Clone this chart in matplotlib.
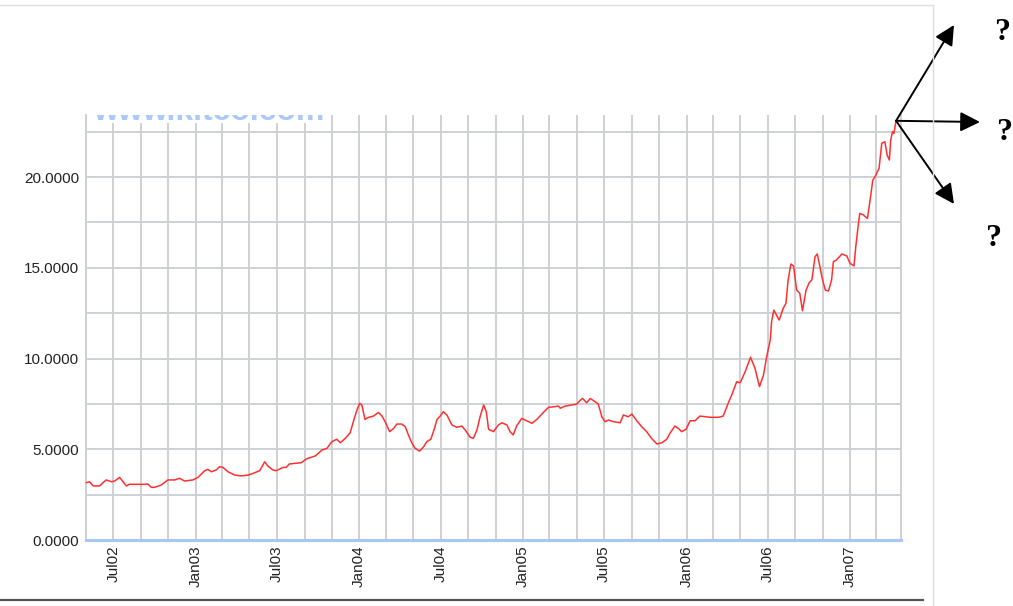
import matplotlib
matplotlib.use("Agg")
import matplotlib.pyplot as plt
import matplotlib.dates as mdates
from matplotlib.lines import Line2D
from matplotlib.patches import Rectangle
from matplotlib.ticker import MultipleLocator, FuncFormatter
import pandas as pd

# price readings (date, value)
dates = [
    "2002-05-02", "2002-05-09", "2002-05-17", "2002-05-31", "2002-06-15", "2002-06-27",
    "2002-07-04", "2002-07-15", "2002-07-23", "2002-07-30", "2002-08-06", "2002-09-09",
    "2002-09-16", "2002-09-24", "2002-10-01", "2002-10-16", "2002-10-31", "2002-11-15",
    "2002-11-26", "2002-12-07", "2002-12-26", "2003-01-06", "2003-01-21", "2003-01-28",
    "2003-02-05", "2003-02-16", "2003-02-23", "2003-03-03", "2003-03-14", "2003-03-29",
    "2003-04-13", "2003-04-28", "2003-05-09", "2003-05-24", "2003-06-04", "2003-06-11",
    "2003-06-22", "2003-06-30", "2003-07-15", "2003-07-22", "2003-07-29", "2003-08-13",
    "2003-08-25", "2003-09-06", "2003-09-25", "2003-10-10", "2003-10-21", "2003-11-01",
    "2003-11-12", "2003-11-20", "2003-12-01", "2003-12-12", "2003-12-19", "2003-12-27",
    "2004-01-02", "2004-01-07", "2004-01-14", "2004-01-22", "2004-02-02", "2004-02-13",
    "2004-02-21", "2004-02-28", "2004-03-09", "2004-03-18", "2004-03-25", "2004-04-05",
    "2004-04-13", "2004-04-20", "2004-04-28", "2004-05-05", "2004-05-15", "2004-05-24",
    "2004-05-31", "2004-06-09", "2004-06-16", "2004-06-23", "2004-06-30", "2004-07-07",
    "2004-07-15", "2004-07-26", "2004-08-06", "2004-08-17", "2004-08-25", "2004-09-05",
    "2004-09-12", "2004-09-20", "2004-09-27", "2004-10-05", "2004-10-11", "2004-10-16",
    "2004-10-27", "2004-11-07", "2004-11-15", "2004-11-26", "2004-12-03", "2004-12-10",
    "2004-12-18", "2004-12-29", "2005-01-09", "2005-01-21", "2005-02-01", "2005-02-15",
    "2005-02-27", "2005-03-10", "2005-03-21", "2005-03-25", "2005-04-05", "2005-04-20",
    "2005-05-01", "2005-05-08", "2005-05-14", "2005-05-23", "2005-05-31", "2005-06-11",
    "2005-06-18", "2005-06-26", "2005-07-03", "2005-07-11", "2005-07-22", "2005-08-06",
    "2005-08-13", "2005-08-24", "2005-09-01", "2005-09-12", "2005-09-23", "2005-10-04",
    "2005-10-15", "2005-10-27", "2005-11-07", "2005-11-18", "2005-11-25", "2005-12-06",
    "2005-12-14", "2005-12-21", "2005-12-31", "2006-01-09", "2006-01-20", "2006-01-31",
    "2006-02-23", "2006-03-13", "2006-03-24", "2006-04-04", "2006-04-12", "2006-04-23",
    "2006-05-01", "2006-05-12", "2006-05-24", "2006-06-03", "2006-06-13", "2006-06-22",
    "2006-06-29", "2006-07-07", "2006-07-10", "2006-07-15", "2006-07-27", "2006-08-05",
    "2006-08-11", "2006-08-16", "2006-08-22", "2006-08-28", "2006-09-04", "2006-09-11",
    "2006-09-17", "2006-09-25", "2006-10-02", "2006-10-08", "2006-10-15", "2006-10-20",
    "2006-10-26", "2006-10-31", "2006-11-07", "2006-11-14", "2006-11-21", "2006-11-25",
    "2006-12-02", "2006-12-14", "2006-12-25", "2007-01-01", "2007-01-10", "2007-01-14",
    "2007-01-20", "2007-01-23", "2007-01-31", "2007-02-09", "2007-02-15", "2007-02-21",
    "2007-02-26", "2007-03-07", "2007-03-13", "2007-03-20", "2007-03-25", "2007-03-30",
    "2007-04-02", "2007-04-06", "2007-04-09", "2007-04-14",
]
values = [
    3.16, 3.21, 2.98, 2.98, 3.31, 3.21,
    3.25, 3.45, 3.21, 2.98, 3.07, 3.07,
    3.09, 2.90, 2.90, 3.03, 3.31, 3.31,
    3.40, 3.25, 3.31, 3.45, 3.82, 3.89,
    3.76, 3.86, 4.04, 4.00, 3.76, 3.58,
    3.53, 3.58, 3.67, 3.82, 4.31, 4.08,
    3.86, 3.82, 4.00, 4.00, 4.19, 4.23,
    4.26, 4.48, 4.63, 4.96, 5.05, 5.42,
    5.55, 5.36, 5.60, 5.91, 6.52, 7.16,
    7.53, 7.44, 6.65, 6.76, 6.83, 7.03,
    6.83, 6.52, 5.97, 6.15, 6.39, 6.39,
    6.24, 5.79, 5.33, 5.05, 4.90, 5.14,
    5.42, 5.55, 6.06, 6.65, 6.83, 7.07,
    6.89, 6.34, 6.21, 6.28, 6.06, 5.66,
    5.60, 6.06, 6.79, 7.44, 7.07, 6.10,
    5.97, 6.34, 6.46, 6.34, 5.97, 5.79,
    6.30, 6.70, 6.57, 6.43, 6.65, 7.02,
    7.31, 7.34, 7.38, 7.26, 7.38, 7.44,
    7.49, 7.68, 7.80, 7.56, 7.80, 7.62,
    7.49, 6.79, 6.52, 6.61, 6.52, 6.46,
    6.89, 6.79, 6.94, 6.57, 6.24, 5.97,
    5.60, 5.29, 5.36, 5.55, 5.88, 6.28,
    6.15, 5.97, 6.10, 6.57, 6.57, 6.83,
    6.76, 6.76, 6.83, 7.53, 7.99, 8.72,
    8.67, 9.27, 10.07, 9.46, 8.45, 9.09,
    10.10, 11.02, 12.03, 12.67, 12.12, 12.77,
    13.04, 14.33, 15.21, 15.10, 13.77, 13.59,
    12.63, 13.77, 14.18, 14.33, 15.61, 15.76,
    15.06, 14.42, 13.77, 13.72, 14.33, 15.34,
    15.43, 15.76, 15.65, 15.25, 15.10, 16.16,
    17.45, 18.00, 17.91, 17.72, 18.73, 19.83,
    20.02, 20.48, 21.86, 21.95, 21.21, 20.94,
    22.04, 22.50, 22.40, 23.10,
]
x_start = "2002-05-01"
x_end = "2007-04-25"
watermark = "www.kitco.com"
question = "?"

W, H = 1013, 606
fig = plt.figure(figsize=(W / 100, H / 100), dpi=100)
ax = fig.add_axes([86 / W, (H - 540) / H, 815 / W, 425 / H])

d = pd.to_datetime(dates)
ax.plot(d, values, color="#ff3030", lw=1.1, zorder=3, clip_on=False)

ax.set_xlim(pd.Timestamp(x_start), pd.Timestamp(x_end))
ax.set_ylim(0, 23.42)

ax.xaxis.set_major_locator(mdates.MonthLocator(bymonth=[1, 7]))
ax.xaxis.set_major_formatter(mdates.DateFormatter("%b%y"))
ax.xaxis.set_minor_locator(mdates.MonthLocator(bymonth=[1, 3, 5, 7, 9, 11]))
ax.yaxis.set_major_locator(MultipleLocator(5))
ax.yaxis.set_major_formatter(FuncFormatter(lambda v, p: "%.4f" % v))
ax.yaxis.set_minor_locator(MultipleLocator(2.5))

gc = "#cdd1d5"
ax.grid(True, which="both", color=gc, lw=1.4, zorder=1)
ax.tick_params(which="both", length=0)
ax.tick_params(axis="y", pad=5, labelsize=11, labelcolor="#222222")
ax.tick_params(axis="x", pad=4, labelsize=11, labelcolor="#222222", labelrotation=90)
for lab in ax.get_yticklabels() + ax.get_xticklabels():
    lab.set_family("Liberation Sans")

ax.spines["top"].set_visible(False)
ax.spines["left"].set_color(gc)
ax.spines["left"].set_linewidth(1.4)
ax.spines["right"].set_color(gc)
ax.spines["right"].set_linewidth(1.4)
ax.spines["bottom"].set_color("#a6c8f7")
ax.spines["bottom"].set_linewidth(2.2)
ax.spines["bottom"].set_zorder(4)

# watermark box at top-left, mostly cut off by the plot edge
ax.add_patch(Rectangle((0, 1 - 8 / 425), 245 / 815, 8 / 425, transform=ax.transAxes,
                       facecolor="white", edgecolor="none", zorder=2))
wm = ax.text(7 / 815, 1 - 5 / 425, watermark, transform=ax.transAxes, color="#a9c9fb",
             fontsize=23, fontweight="bold", family="Liberation Sans", va="baseline",
             ha="left", zorder=2)
wm.set_clip_box(ax.bbox)
wm.set_clip_on(True)

# arrows from the last point
last = (d[-1], values[-1])
tips = [(954, 25), (980, 122), (954, 204)]
for tx, ty in tips:
    ax.annotate("", xy=(tx, H - ty), xycoords="figure pixels", xytext=last,
                textcoords="data",
                arrowprops=dict(arrowstyle="-|>", color="black", lw=1.4,
                                mutation_scale=30, shrinkA=0, shrinkB=0))

for qx, qy in [(1002, 32), (1004, 132), (993, 238)]:
    fig.text(qx / W, 1 - qy / H, question, fontsize=23, fontweight="bold",
             family="Liberation Serif", ha="center", va="center")

# page frame lines
fig.add_artist(Line2D([0, 933 / W], [1 - 5 / H, 1 - 5 / H], color="#dcdcdc", lw=1))
fig.add_artist(Line2D([933 / W, 933 / W], [0, 1 - 5 / H], color="#dcdcdc", lw=1))
fig.add_artist(Line2D([0, 923 / W], [1 - 600 / H, 1 - 600 / H], color="#555555", lw=1.6))

fig.savefig("out.png", dpi=100)
